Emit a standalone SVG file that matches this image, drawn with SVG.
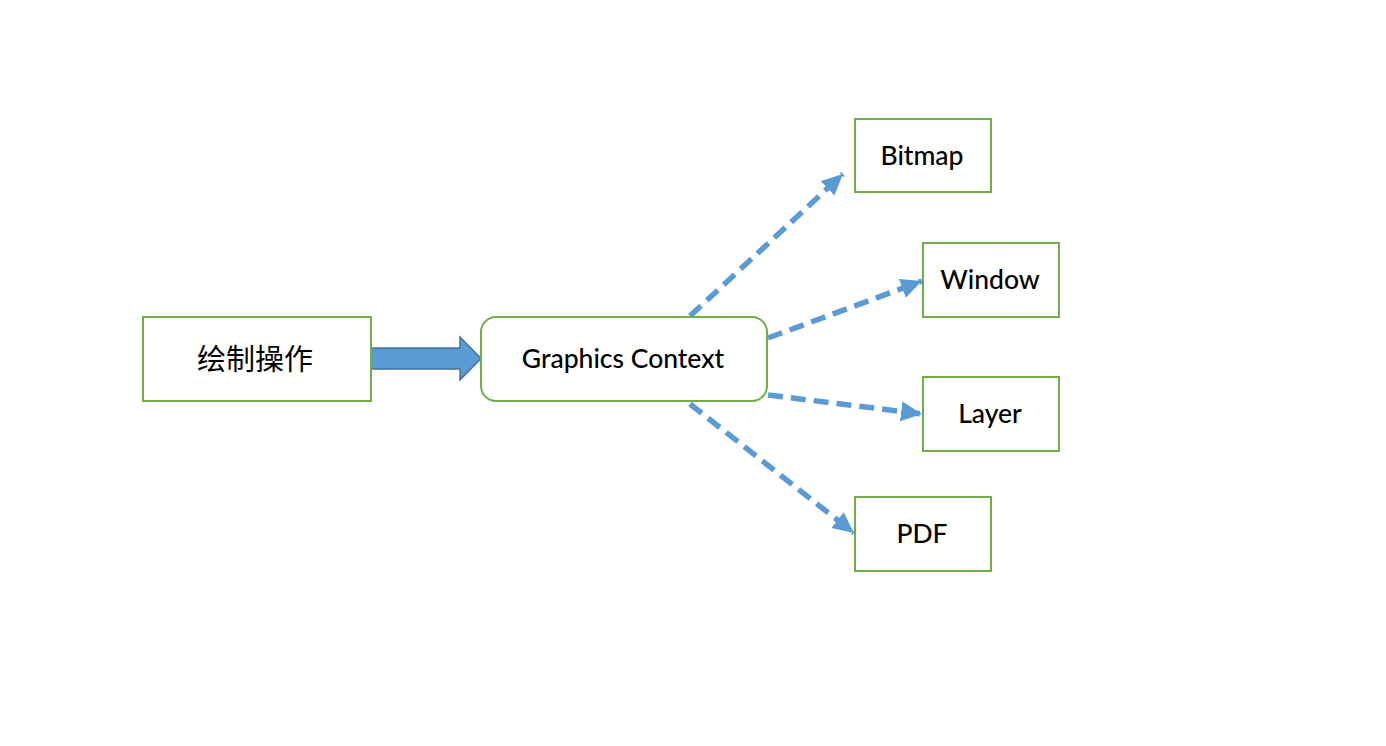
<svg xmlns="http://www.w3.org/2000/svg" width="1386" height="746" viewBox="0 0 1386 746">
<style>
.box{fill:#fff;stroke:#70ad47;stroke-width:2}
.t{font-family:Lato,"Liberation Sans",sans-serif;font-size:26.5px;font-weight:500;fill:#000;text-anchor:middle;dominant-baseline:central}
.cn{font-family:"Noto Sans CJK SC",sans-serif;font-size:29px;fill:#000;text-anchor:middle;dominant-baseline:central}
.dash{fill:none;stroke:#5b9bd5;stroke-width:5.5;stroke-dasharray:15 8}
</style>
<defs>
<marker id="ah" markerUnits="userSpaceOnUse" markerWidth="24" markerHeight="22" refX="21" refY="10" orient="auto">
<path d="M0,0 L21,10 L0,20 Z" fill="#5b9bd5"/>
</marker>
</defs>
<rect width="1386" height="746" fill="#fff"/>
<g id="connectors">
<path id="block-arrow" d="M371,348 L460,348 L460,337 L481,358.5 L460,380 L460,369 L371,369 Z" fill="#5b9bd5" stroke="#41719c" stroke-width="1.5"/>
<line class="dash" x1="690" y1="316" x2="843" y2="174" marker-end="url(#ah)"/>
<line class="dash" x1="768" y1="338" x2="922" y2="281" marker-end="url(#ah)"/>
<line class="dash" x1="768" y1="395" x2="922" y2="414" marker-end="url(#ah)"/>
<line class="dash" x1="690" y1="404" x2="854" y2="533" marker-end="url(#ah)"/>
</g>
<g id="node-draw"><rect class="box" x="143" y="317" width="228" height="84"/><text class="cn" x="255" y="357">绘制操作</text></g>
<g id="node-gc"><rect class="box" x="481" y="317" width="286" height="84" rx="15"/><text class="t" x="623" y="358">Graphics Context</text></g>
<g id="node-bitmap"><rect class="box" x="855" y="119" width="136" height="73"/><text class="t" x="922" y="155">Bitmap</text></g>
<g id="node-window"><rect class="box" x="923" y="243" width="136" height="74"/><text class="t" x="990" y="279">Window</text></g>
<g id="node-layer"><rect class="box" x="923" y="377" width="136" height="74"/><text class="t" x="990" y="413">Layer</text></g>
<g id="node-pdf"><rect class="box" x="855" y="497" width="136" height="74"/><text class="t" x="922" y="533">PDF</text></g>
</svg>
